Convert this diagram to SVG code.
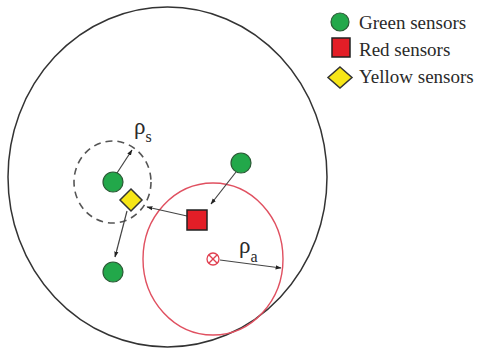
<svg xmlns="http://www.w3.org/2000/svg" width="482" height="349" viewBox="0 0 482 349">
  <style>
    .green { fill: #22a84a; stroke: #2a5a35; stroke-width: 1.2; }
    .red { fill: #e31e27; stroke: #222; stroke-width: 1.5; }
    .yellow { fill: #f7e617; stroke: #333; stroke-width: 1.5; }
    .label { font-family: "Liberation Serif", "Times New Roman", serif; fill: #2a2a2a; }
    .legend { font-size: 19px; }
    .rho { font-size: 23px; }
    .sub { font-size: 16px; }
    .edge { stroke: #444; stroke-width: 1.2; fill: none; marker-end: url(#arrow); }
  </style>
  <defs>
    <marker id="arrow" viewBox="0 0 10 10" refX="9" refY="5" markerWidth="6" markerHeight="6" orient="auto" markerUnits="userSpaceOnUse">
      <path d="M0,1.5 L10,5 L0,8.5 Z" fill="#222"/>
    </marker>
  </defs>
  <rect width="482" height="349" fill="#fff"/>

  <!-- sensing field boundary -->
  <g id="field">
    <ellipse cx="167.5" cy="177" rx="159.5" ry="170" fill="none" stroke="#333" stroke-width="1.5"/>
  </g>

  <!-- sensing range of the yellow sensor -->
  <g id="range-s">
    <ellipse cx="112.5" cy="182" rx="38.5" ry="41" fill="none" stroke="#555" stroke-width="1.6" stroke-dasharray="7,5"/>
  </g>

  <!-- area around the target -->
  <g id="range-a">
    <ellipse cx="213" cy="259" rx="70" ry="76" fill="none" stroke="#e05060" stroke-width="1.4"/>
  </g>

  <!-- target -->
  <g id="target" stroke="#e04050" stroke-width="1.3" fill="none">
    <circle cx="213" cy="259" r="6"/>
    <line x1="208.8" y1="254.8" x2="217.2" y2="263.2"/>
    <line x1="217.2" y1="254.8" x2="208.8" y2="263.2"/>
  </g>

  <!-- connectors -->
  <g id="connectors">
    <line class="edge" x1="117" y1="173" x2="132" y2="150"/>
    <line class="edge" x1="127" y1="211" x2="115" y2="257"/>
    <line class="edge" x1="236" y1="172" x2="211" y2="204"/>
    <line class="edge" x1="187" y1="216" x2="147" y2="207"/>
    <line class="edge" x1="220" y1="260" x2="281" y2="268"/>
  </g>

  <!-- radius labels -->
  <g id="label-rho-s">
    <text class="label rho" x="134" y="134">ρ<tspan class="sub" dy="8">s</tspan></text>
  </g>
  <g id="label-rho-a">
    <text class="label rho" x="239" y="253">ρ<tspan class="sub" dy="9">a</tspan></text>
  </g>

  <!-- sensors -->
  <g id="green-1"><circle class="green" cx="113" cy="182" r="10"/></g>
  <g id="green-2"><circle class="green" cx="113" cy="272" r="10"/></g>
  <g id="green-3"><circle class="green" cx="241" cy="163" r="10"/></g>
  <g id="red-1"><rect class="red" x="187" y="210" width="20" height="20"/></g>
  <g id="yellow-1"><polygon class="yellow" points="131,189 142,200 131,211 120,200"/></g>

  <!-- legend -->
  <g id="legend">
    <circle class="green" cx="340" cy="22" r="9"/>
    <text class="label legend" x="359" y="29">Green sensors</text>
    <rect class="red" x="332" y="38" width="18" height="19"/>
    <text class="label legend" x="359" y="56">Red sensors</text>
    <polygon class="yellow" points="340,67 352,77.5 340,88 328,77.5"/>
    <text class="label legend" x="359" y="83">Yellow sensors</text>
  </g>
</svg>
